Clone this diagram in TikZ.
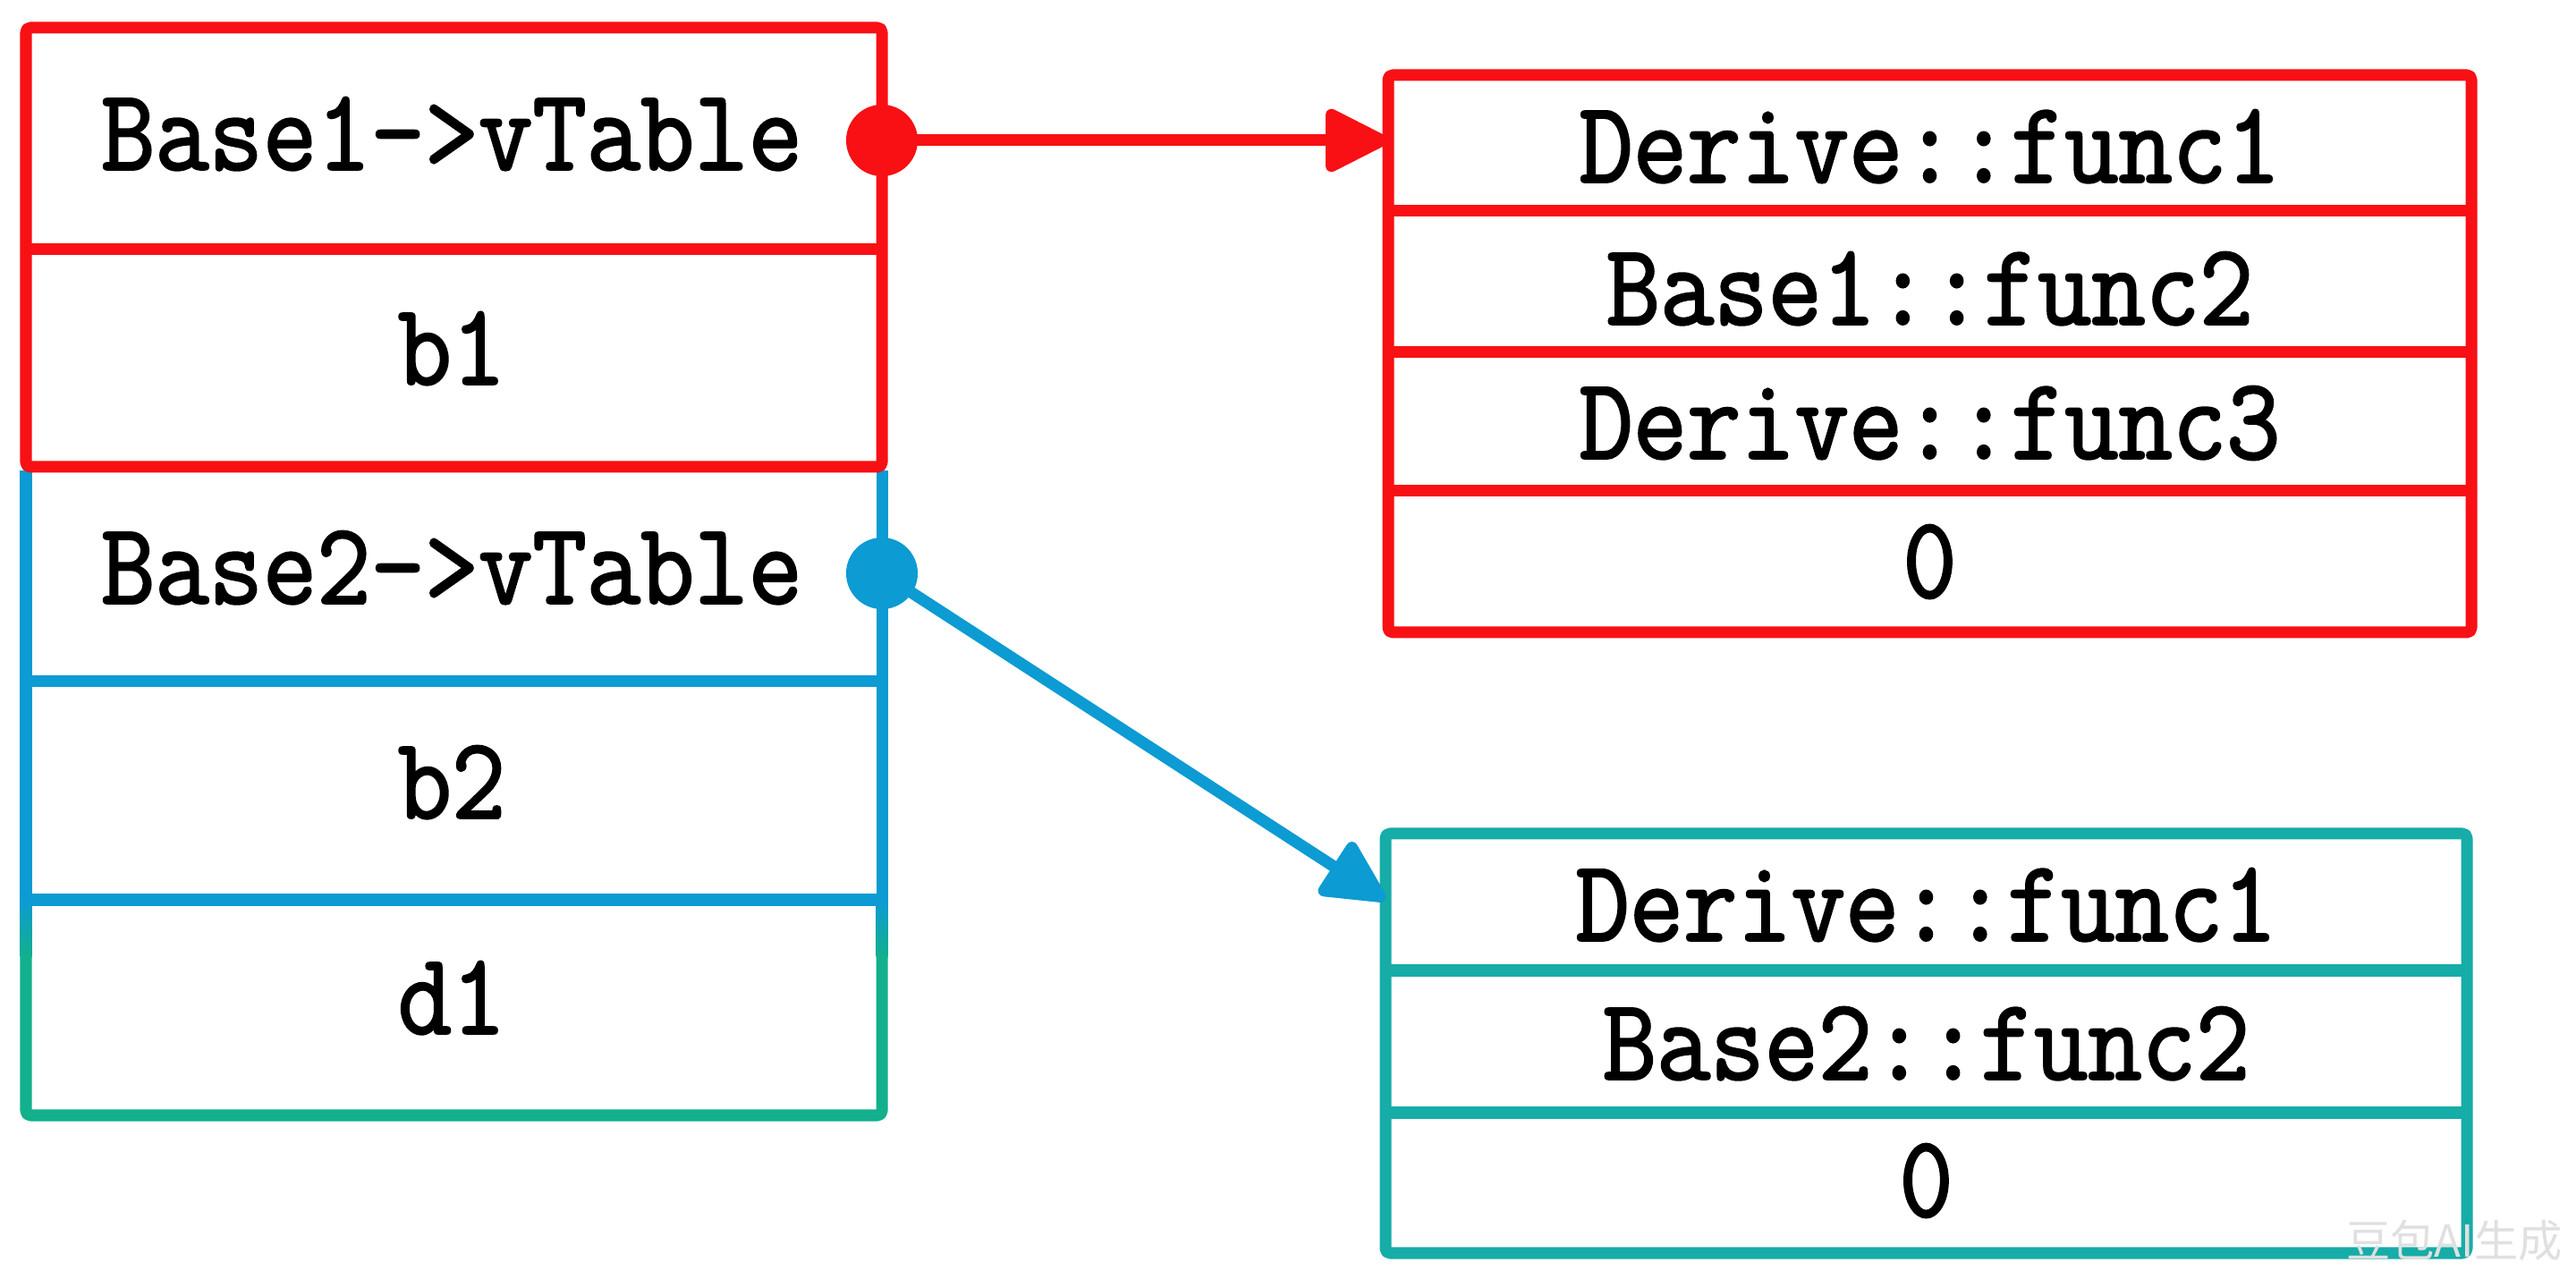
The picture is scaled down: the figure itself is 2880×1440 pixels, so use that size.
\documentclass[tikz,border=0pt]{standalone}
\usepackage{fontspec}
\newfontfamily\cellfont[FakeStretch=0.9,FakeBold=1.8]{Latin Modern Mono}
\newfontfamily\cjkfont{Noto Sans CJK SC}
\usetikzlibrary{arrows.meta}
\definecolor{cred}{RGB}{248,16,20}
\definecolor{cblue}{RGB}{12,155,210}
\definecolor{cteal}{RGB}{22,172,168}
\definecolor{cgreen}{RGB}{18,176,140}
\tikzset{
  bd/.style={line width=0.13cm, rounded corners=0.05cm, line join=round},
  cell/.style={inner sep=0pt, outer sep=0pt, font=\cellfont\fontsize{37}{37}\selectfont,
    text height=0.795cm, text depth=0pt, align=center},
  lcell/.style={cell, minimum width=9.57cm},
  t1cell/.style={cell, minimum width=12.11cm},
  t2cell/.style={cell, minimum width=12.09cm},
  dot/.style={circle, inner sep=0pt, outer sep=0pt, minimum size=0.8cm},
  arr/.style={line width=0.13cm, -{Triangle[length=0.78cm,width=0.75cm,round]}}
}
\begin{document}
\begin{tikzpicture}[x=0.01cm,y=-0.01cm]
\useasboundingbox[fill=white] (0,0) rectangle (2880,1440);

% left stack borders
\draw[bd,cgreen] (29,1006) -- (29,1247) -- (986,1247) -- (986,1006);
\shade[top color=cblue,bottom color=cgreen] (22.5,1006) rectangle (35.5,1070);
\shade[top color=cblue,bottom color=cgreen] (979.5,1006) rectangle (992.5,1070);
\draw[bd,cblue] (29,526) -- (29,1006) (986,526) -- (986,1006);
\draw[bd,cblue] (29,762) -- (986,762) (22.5,1006) -- (992.5,1006);
\draw[bd,cred] (29,31) rectangle (986,522);
\draw[bd,cred] (29,279) -- (986,279);

% left stack cells
\node[lcell] (l1) at (505,150) {Base1->vTable};
\node[lcell] (l2) at (505,390) {b1};
\node[lcell] (l3) at (505,635) {Base2->vTable};
\node[lcell] (l4) at (505,875) {b2};
\node[lcell] (l5) at (505,1116) {d1};

% vtable 1
\draw[bd,cred] (1552,84) rectangle (2763,707);
\draw[bd,cred] (1552,236) -- (2763,236) (1552,394) -- (2763,394) (1552,549) -- (2763,549);
\node[t1cell] (a1) at (2157.5,164) {Derive::func1};
\node[t1cell] (a2) at (2157.5,323) {Base1::func2};
\node[t1cell] (a3) at (2157.5,473) {Derive::func3};
\node[t1cell] (a4) at (2157.5,628) {0};

% vtable 2
\draw[bd,cteal] (1549,932) rectangle (2758,1401);
\draw[bd,cteal] (1549,1085) -- (2758,1085) (1549,1244) -- (2758,1244);
\node[t2cell] (b1) at (2153.5,1012) {Derive::func1};
\node[t2cell] (b2) at (2153.5,1167) {Base2::func2};
\node[t2cell] (b3) at (2153.5,1320) {0};

% pointers
\node[dot, fill=cred] (p1) at (986,157) {};
\node[dot, fill=cblue] (p2) at (986,641) {};
\draw[arr, cred] (p1.center) -- (a1.west |- p1.center);
\draw[arr, cblue] (p2.center) -- ([yshift=0.06cm]b1.west);

% watermark
\node[font=\cjkfont\fontsize{14}{14}\selectfont, text=black!12, inner sep=0pt] (wm) at (2744,1387) {豆包AI生成};
\end{tikzpicture}
\end{document}
